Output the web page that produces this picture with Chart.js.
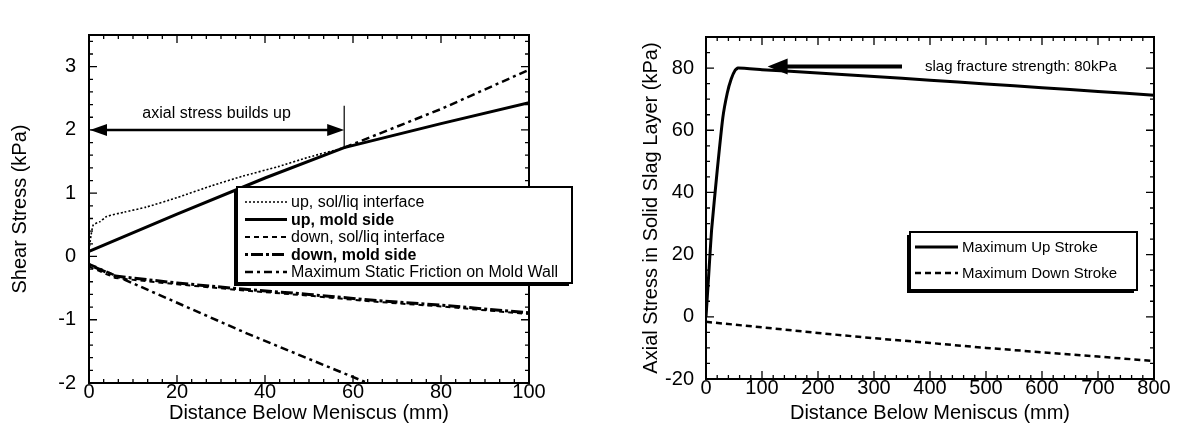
<!DOCTYPE html>
<html>
<head>
<meta charset="utf-8">
<script src="https://cdn.jsdelivr.net/npm/chart.js@4.4.1/dist/chart.umd.min.js"></script>
<style>
  body { margin: 0; background: #fff; width: 1180px; height: 439px; overflow: hidden; position: relative; }
  #c1 { position: absolute; left: 0; top: 0; }
  #c2 { position: absolute; left: 632px; top: 0; }
</style>
</head>
<body>
<canvas id="c1" width="590" height="439"></canvas>
<canvas id="c2" width="548" height="439"></canvas>
<script>
// ---- left chart: shear stress (kPa) vs distance below meniscus (mm)
const upSolLiqX = [0, 0.5, 1, 2.5, 4, 8, 13, 20, 28, 35, 43, 50, 58];
const upSolLiqY = [0.1, 0.35, 0.5, 0.55, 0.63, 0.7, 0.78, 0.93, 1.12, 1.27, 1.42, 1.57, 1.72];
const upMoldX = [0, 20, 40, 58, 80, 100];
const upMoldY = [0.08, 0.67, 1.24, 1.72, 2.1, 2.43];
const downSolLiqX = [0, 6, 20, 34, 50, 64, 80, 100];
const downSolLiqY = [-0.16, -0.34, -0.44, -0.53, -0.62, -0.71, -0.79, -0.91];
const downMoldX = [0, 6, 20, 34, 50, 64, 80, 100];
const downMoldY = [-0.13, -0.31, -0.42, -0.51, -0.6, -0.69, -0.77, -0.89];
const frictionLowX = [0, 36, 64];
const frictionLowY = [-0.12, -1.22, -2.02];
const frictionHighX = [58, 80, 100];
const frictionHighY = [1.72, 2.33, 2.95];

// ---- right chart: axial stress in solid slag layer (kPa)
const upStrokeX = [0, 5, 10, 20, 30, 38, 45, 52, 57, 100, 200, 300, 400, 500, 600, 700, 800];
const upStrokeY = [0, 14, 28, 47, 64, 72, 76.5, 79.3, 80, 79.5, 78.4, 77.3, 76.1, 74.9, 73.7, 72.5, 71.3];
const downStrokeX = [0, 100, 200, 300, 400, 500, 600, 700, 800];
const downStrokeY = [-1.6, -3.4, -5.2, -6.9, -8.4, -10, -11.4, -12.8, -14.2];

const FONT = "'Liberation Sans', Arial, Helvetica, sans-serif";
Chart.defaults.font.family = FONT;
Chart.defaults.color = '#000';

const pts = (xs, ys) => xs.map((x, i) => ({ x: x, y: ys[i] }));

// frame with inward major/minor ticks on all four sides
const frameTicks = {
  id: 'frameTicks',
  afterDatasetsDraw(chart, args, o) {
    const { ctx, chartArea: a, scales: { x, y } } = chart;
    ctx.save();
    ctx.strokeStyle = '#000';
    ctx.lineWidth = 1.3;
    ctx.beginPath();
    const isMajor = (v, step) => Math.abs(v / step - Math.round(v / step)) < 1e-6;
    for (let i = 0; ; i++) {
      const v = x.min + i * o.xMinor;
      if (v > x.max + 1e-9) break;
      const px = x.getPixelForValue(v);
      const len = isMajor(v, o.xMajor) ? 8 : 4;
      ctx.moveTo(px, a.bottom); ctx.lineTo(px, a.bottom - len);
      ctx.moveTo(px, a.top); ctx.lineTo(px, a.top + len);
    }
    const y0 = Math.ceil(y.min / o.yMinor - 1e-6) * o.yMinor;
    for (let i = 0; ; i++) {
      const v = y0 + i * o.yMinor;
      if (v > y.max + 1e-9) break;
      const py = y.getPixelForValue(v);
      const len = isMajor(v, o.yMajor) ? 8 : 4;
      ctx.moveTo(a.left, py); ctx.lineTo(a.left + len, py);
      ctx.moveTo(a.right, py); ctx.lineTo(a.right - len, py);
    }
    ctx.stroke();
    ctx.lineWidth = 2;
    ctx.strokeRect(a.left, a.top, a.width, a.height);
    ctx.restore();
  }
};

function arrowHead(ctx, tipX, tipY, dir, len, half) {
  ctx.beginPath();
  ctx.moveTo(tipX, tipY);
  ctx.lineTo(tipX - dir * len, tipY - half);
  ctx.lineTo(tipX - dir * len, tipY + half);
  ctx.closePath();
  ctx.fill();
}

// boxed legend with a drop shadow, drawn on top of the lines
const boxLegend = {
  id: 'boxLegend',
  afterDraw(chart, args, o) {
    const ctx = chart.ctx;
    const b = o.box;
    ctx.save();
    ctx.fillStyle = '#000';
    ctx.fillRect(b.x - 3, b.y + 3, b.w, b.h);
    ctx.fillStyle = '#fff';
    ctx.fillRect(b.x, b.y, b.w, b.h);
    ctx.strokeStyle = '#000';
    ctx.lineWidth = 2;
    ctx.strokeRect(b.x, b.y, b.w, b.h);
    o.items.forEach((idx, k) => {
      const ds = chart.data.datasets[idx];
      const yy = b.y + o.first + k * o.gap;
      ctx.beginPath();
      ctx.setLineDash(ds.borderDash || []);
      ctx.lineWidth = ds.borderWidth;
      ctx.moveTo(b.x + o.sample[0], yy);
      ctx.lineTo(b.x + o.sample[1], yy);
      ctx.stroke();
      ctx.setLineDash([]);
      ctx.fillStyle = '#000';
      ctx.font = ((o.bold || []).includes(k) ? 'bold ' : '') + o.size + 'px ' + FONT;
      ctx.textBaseline = 'middle';
      ctx.textAlign = 'left';
      ctx.fillText(ds.label, b.x + o.sample[1] + 4, yy + 1);
    });
    ctx.restore();
  }
};

function axisFont(size) { return { size: size, family: FONT }; }

// ---------------- left chart
const buildUpX = 58, buildUpY = 2;
new Chart(document.getElementById('c1'), {
  type: 'line',
  data: {
    datasets: [
      { label: 'up, sol/liq interface', data: pts(upSolLiqX, upSolLiqY), borderColor: '#000', borderWidth: 1.6, borderDash: [2, 2], pointRadius: 0, tension: 0.2 },
      { label: 'up, mold side', data: pts(upMoldX, upMoldY), borderColor: '#000', borderWidth: 3, pointRadius: 0 },
      { label: 'down, sol/liq interface', data: pts(downSolLiqX, downSolLiqY), borderColor: '#000', borderWidth: 2, borderDash: [5, 4], pointRadius: 0 },
      { label: 'down, mold side', data: pts(downMoldX, downMoldY), borderColor: '#000', borderWidth: 3, borderDash: [3, 3, 12, 3], pointRadius: 0 },
      { label: 'Maximum Static Friction on Mold Wall', data: pts(frictionLowX, frictionLowY), borderColor: '#000', borderWidth: 2.5, borderDash: [8, 4, 3, 4], pointRadius: 0 },
      { label: 'Maximum Static Friction on Mold Wall', data: pts(frictionHighX, frictionHighY), borderColor: '#000', borderWidth: 2.5, borderDash: [8, 4, 3, 4], pointRadius: 0 }
    ]
  },
  options: {
    responsive: false,
    animation: false,
    events: [],
    layout: { padding: { top: 35, right: 61, left: 0, bottom: 0 } },
    plugins: {
      legend: { display: false },
      tooltip: { enabled: false },
      frameTicks: { xMinor: 20 / 6, xMajor: 20, yMinor: 0.2, yMajor: 1 },
      boxLegend: {
        box: { x: 237, y: 187, w: 335, h: 96 },
        items: [0, 1, 2, 3, 4], first: 15, gap: 17.5, sample: [8, 50], size: 16, bold: [1, 3]
      }
    },
    scales: {
      x: {
        type: 'linear', min: 0, max: 100,
        border: { display: false }, grid: { display: false, drawTicks: false },
        ticks: { stepSize: 20, padding: -3, font: axisFont(20), includeBounds: false },
        title: { display: true, text: 'Distance Below Meniscus (mm)', font: axisFont(20), padding: { top: 0, bottom: 14 } },
        afterFit: s => { s.height = 56; }
      },
      y: {
        type: 'linear', min: -2, max: 3.5,
        border: { display: false }, grid: { display: false, drawTicks: false },
        ticks: { stepSize: 1, padding: 13, font: axisFont(20), includeBounds: false },
        title: { display: true, text: 'Shear Stress (kPa)', font: axisFont(20), padding: { top: 8, bottom: 0 } },
        afterFit: s => { s.width = 89; }
      }
    }
  },
  plugins: [frameTicks, {
    id: 'buildUp',
    afterDatasetsDraw(chart) {
      const { ctx, scales: { x, y } } = chart;
      const x0 = x.getPixelForValue(0), x1 = x.getPixelForValue(buildUpX);
      const yy = y.getPixelForValue(buildUpY);
      ctx.save();
      ctx.strokeStyle = '#000'; ctx.fillStyle = '#000';
      ctx.lineWidth = 2.5;
      ctx.beginPath(); ctx.moveTo(x0 + 12, yy); ctx.lineTo(x1 - 12, yy); ctx.stroke();
      arrowHead(ctx, x0 + 1, yy, -1, 17, 6);
      arrowHead(ctx, x1, yy, 1, 17, 6);
      ctx.lineWidth = 1.2;
      ctx.beginPath();
      ctx.moveTo(x1, y.getPixelForValue(1.72));
      ctx.lineTo(x1, y.getPixelForValue(2.38));
      ctx.stroke();
      ctx.font = '16px ' + FONT;
      ctx.textAlign = 'center'; ctx.textBaseline = 'middle';
      ctx.fillText('axial stress builds up', x.getPixelForValue(29), y.getPixelForValue(2.25));
      ctx.restore();
    }
  }, boxLegend]
});

// ---------------- right chart
const fractureX0 = 350, fractureX1 = 110, fractureY = 80.5;
new Chart(document.getElementById('c2'), {
  type: 'line',
  data: {
    datasets: [
      { label: 'Maximum Up Stroke', data: pts(upStrokeX, upStrokeY), borderColor: '#000', borderWidth: 3, pointRadius: 0, tension: 0.15 },
      { label: 'Maximum Down Stroke', data: pts(downStrokeX, downStrokeY), borderColor: '#000', borderWidth: 2.5, borderDash: [6, 4], pointRadius: 0 }
    ]
  },
  options: {
    responsive: false,
    animation: false,
    events: [],
    layout: { padding: { top: 37, right: 26, left: 0, bottom: 0 } },
    plugins: {
      legend: { display: false },
      tooltip: { enabled: false },
      frameTicks: { xMinor: 20, xMajor: 100, yMinor: 5, yMajor: 20 },
      boxLegend: {
        box: { x: 910 - 632, y: 232, w: 227, h: 58 },
        items: [0, 1], first: 15, gap: 26, sample: [5, 48], size: 15, bold: []
      }
    },
    scales: {
      x: {
        type: 'linear', min: 0, max: 800,
        border: { display: false }, grid: { display: false, drawTicks: false },
        ticks: { stepSize: 100, padding: -3, font: axisFont(20), includeBounds: false },
        title: { display: true, text: 'Distance Below Meniscus (mm)', font: axisFont(20), padding: { top: 0, bottom: 14 } },
        afterFit: s => { s.height = 60; }
      },
      y: {
        type: 'linear', min: -20, max: 90,
        border: { display: false }, grid: { display: false, drawTicks: false },
        ticks: { stepSize: 20, padding: 12, font: axisFont(20), includeBounds: false },
        title: { display: true, text: 'Axial Stress in Solid Slag Layer (kPa)', font: axisFont(20), padding: { top: 7, bottom: 0 } },
        afterFit: s => { s.width = 74; }
      }
    }
  },
  plugins: [frameTicks, {
    id: 'fracture',
    afterDatasetsDraw(chart) {
      const { ctx, scales: { x, y } } = chart;
      const xa = x.getPixelForValue(fractureX0), xb = x.getPixelForValue(fractureX1);
      const yy = y.getPixelForValue(fractureY);
      ctx.save();
      ctx.strokeStyle = '#000'; ctx.fillStyle = '#000';
      ctx.lineWidth = 4;
      ctx.beginPath(); ctx.moveTo(xa, yy); ctx.lineTo(xb + 15, yy); ctx.stroke();
      arrowHead(ctx, xb, yy, -1, 20, 8);
      ctx.font = '15px ' + FONT;
      ctx.textAlign = 'left'; ctx.textBaseline = 'middle';
      ctx.fillText('slag fracture strength: 80kPa', xa + 23, yy);
      ctx.restore();
    }
  }, boxLegend]
});
</script>
</body>
</html>
